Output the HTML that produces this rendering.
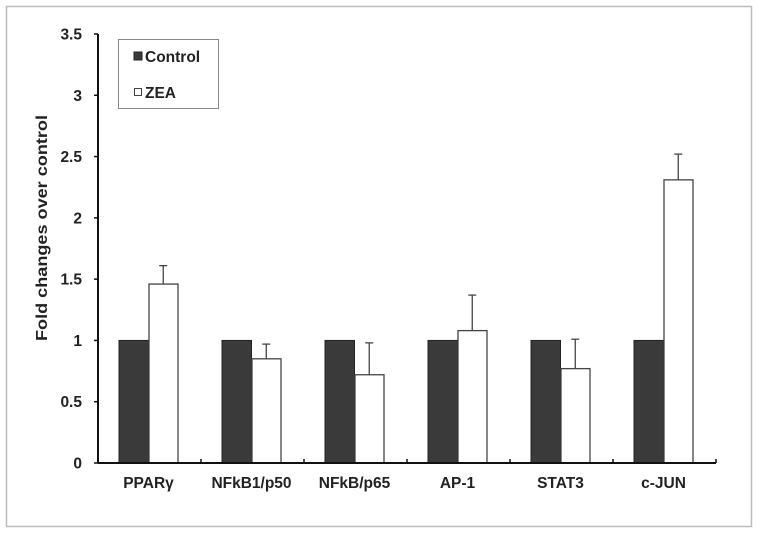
<!DOCTYPE html>
<html><head><meta charset="utf-8"><style>
body{margin:0;background:#fff}
svg text{font-family:"Liberation Sans",Arial,sans-serif;font-weight:bold;fill:#222}
</style></head><body>
<svg width="757" height="532" viewBox="0 0 757 532">
<rect x="6.5" y="6.5" width="745" height="520" fill="#fff" stroke="#bbb" stroke-width="1.5"/>
<g id="plot"></g>
<g>
<rect x="118.5" y="39.5" width="100" height="69" fill="#fff" stroke="#888"/>
<rect x="134" y="52" width="8" height="8" fill="#3a3a3a" stroke="#222"/>
<text x="145" y="62" font-size="15.5">Control</text>
<rect x="134.5" y="88.5" width="7" height="7" fill="#fff" stroke="#444"/>
<text x="145" y="98" font-size="15.5">ZEA</text>
</g>
<text transform="translate(47,228) rotate(-90)" text-anchor="middle" font-size="16" textLength="226" lengthAdjust="spacingAndGlyphs">Fold changes over control</text>
</svg>
<script>
const categories=["PPARγ","NFkB1/p50","NFkB/p65","AP-1","STAT3","c-JUN"];
const controlValues=[1,1,1,1,1,1];
const zeaValues=[1.46,0.85,0.72,1.08,0.77,2.31];
const zeaErrors=[0.15,0.12,0.26,0.29,0.24,0.21];
const yTicks=[0,0.5,1,1.5,2,2.5,3,3.5];
const yTickLabels=["0","0.5","1","1.5","2","2.5","3","3.5"];
const NS="http://www.w3.org/2000/svg";
const g=document.getElementById('plot');
const x0=98,x1=716,y0=463,y1=34,ymax=3.5;
const bw=(x1-x0)/categories.length;
const y=v=>y0-(v/ymax)*(y0-y1);
const xc=i=>x0+bw*(i+0.5)-1;
function mk(t,a){const e=document.createElementNS(NS,t);for(const k in a)e.setAttribute(k,a[k]);g.appendChild(e);return e;}
categories.forEach((c,i)=>{
 const cx=xc(i),w=29.5;
 let r=mk('rect',{x:cx-w,y:y(controlValues[i]),width:w,height:y0-y(controlValues[i]),fill:'#3a3a3a',stroke:'#222','stroke-width':1});
 
 
 const top=y(zeaValues[i]+zeaErrors[i]),ex=cx+w/2;
 let l=mk('line',{x1:ex,x2:ex,y1:y(zeaValues[i]),y2:top,stroke:'#444','stroke-width':1.3});
 
 
 let cp=mk('line',{x1:ex-4,x2:ex+4,y1:top,y2:top,stroke:'#444','stroke-width':1.3});
 
 
 r=mk('rect',{x:cx+0.5,y:y(zeaValues[i]),width:w-0.5,height:y0-y(zeaValues[i]),fill:'#fff',stroke:'#444','stroke-width':1.3});
 
 
 const t=mk('text',{x:cx,y:488,'text-anchor':'middle','font-size':15.5});
 t.textContent=c;
 
 
});
for(let i=0;i<=categories.length;i++){
 const tk=mk('line',{x1:x0+bw*i,x2:x0+bw*i,y1:y0-4,y2:y0,stroke:'#111','stroke-width':1.5});
 
 
}
yTicks.forEach((v,i)=>{
 const tk=mk('line',{x1:x0-4,x2:x0,y1:y(v),y2:y(v),stroke:'#111','stroke-width':1.5});
 
 
 const t=mk('text',{x:x0-16,y:y(v)+5.5,'text-anchor':'end','font-size':15.5});
 t.textContent=yTickLabels[i];
 
 
});
let ax=mk('line',{x1:x0,x2:x0,y1:y1,y2:y0,stroke:'#111','stroke-width':2});


ax=mk('line',{x1:x0,x2:x1,y1:y0,y2:y0,stroke:'#111','stroke-width':2});


</script>
</body></html>
